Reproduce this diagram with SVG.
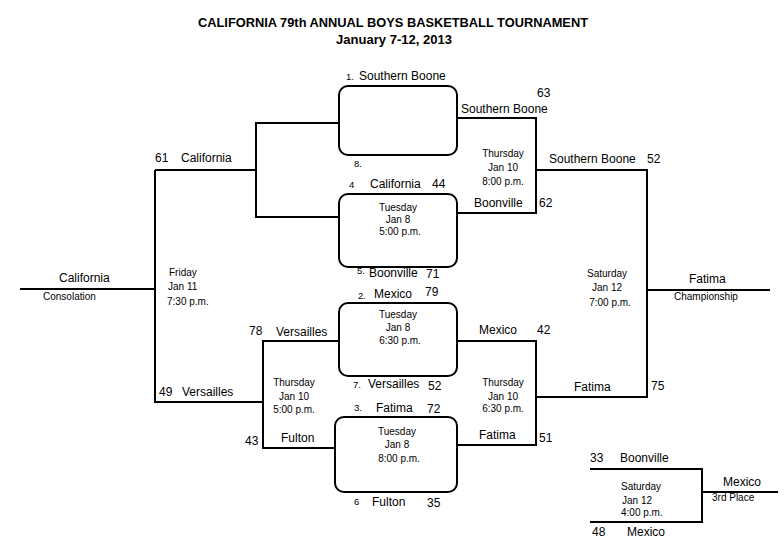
<svg xmlns="http://www.w3.org/2000/svg" width="784" height="538" viewBox="0 0 784 538">
<style>
text{font-family:"Liberation Sans",Arial,sans-serif;fill:#000}
.t{font-size:12px}
.s{font-size:10px}
.n{font-size:9.5px}
.c{font-size:10px}
.h{font-size:12.5px;font-weight:bold}
.ln{fill:none;stroke:#000;stroke-width:2}
.box{fill:#fff;stroke:#000;stroke-width:2}
</style>
<rect width="784" height="538" fill="#fff"/>
<g id="title">
<text class="h" x="393" y="27" text-anchor="middle" textLength="390" lengthAdjust="spacingAndGlyphs">CALIFORNIA 79th ANNUAL BOYS BASKETBALL TOURNAMENT</text>
<text class="h" x="394" y="44" text-anchor="middle" textLength="116" lengthAdjust="spacingAndGlyphs">January 7-12, 2013</text>
</g>
<g id="connectors" class="ln">
<polyline points="339,123 256,123 256,217 339,217"/>
<line x1="155" y1="170" x2="256" y2="170"/>
<polyline points="155,170 155,402 263,402"/>
<line x1="20" y1="289" x2="155" y2="289"/>
<polyline points="339,341 263,341 263,448 335,448"/>
<polyline points="457,118 536,118 536,213 457,213"/>
<polyline points="536,170 647,170 647,397 536,397"/>
<line x1="647" y1="290" x2="770" y2="290"/>
<polyline points="457,341 536,341 536,445 457,445"/>
<polyline points="590,469 702,469 702,522 590,522"/>
<line x1="702" y1="492" x2="778" y2="492"/>
</g>
<g id="game1">
<rect class="box" x="339" y="86" width="118" height="69" rx="9"/>
<text class="n" x="346" y="80">1.</text>
<text class="t" x="359" y="80">Southern Boone</text>
<text class="n" x="354" y="167">8.</text>
</g>
<g id="game2">
<rect class="box" x="339" y="194" width="118" height="73" rx="9"/>
<text class="n" x="349" y="188">4</text>
<text class="t" x="370" y="188">California</text>
<text class="t" x="432" y="188">44</text>
<text class="s" x="398" y="211" text-anchor="middle">Tuesday</text>
<text class="s" x="398" y="223" text-anchor="middle">Jan 8</text>
<text class="s" x="400" y="235" text-anchor="middle">5:00 p.m.</text>
<text class="n" x="357" y="274">5.</text>
<text class="t" x="369" y="277">Boonville</text>
<text class="t" x="426" y="278">71</text>
</g>
<g id="game3">
<rect class="box" x="339" y="303" width="118" height="73" rx="9"/>
<text class="n" x="358" y="299">2.</text>
<text class="t" x="374" y="298">Mexico</text>
<text class="t" x="425" y="296">79</text>
<text class="s" x="398" y="318" text-anchor="middle">Tuesday</text>
<text class="s" x="398" y="331" text-anchor="middle">Jan 8</text>
<text class="s" x="400" y="344" text-anchor="middle">6:30 p.m.</text>
<text class="n" x="353" y="388">7.</text>
<text class="t" x="368" y="388">Versailles</text>
<text class="t" x="428" y="390">52</text>
</g>
<g id="game4">
<rect class="box" x="335" y="417" width="122" height="75" rx="9"/>
<text class="n" x="354" y="411">3.</text>
<text class="t" x="376" y="412">Fatima</text>
<text class="t" x="427" y="413">72</text>
<text class="s" x="397" y="435" text-anchor="middle">Tuesday</text>
<text class="s" x="397" y="448" text-anchor="middle">Jan 8</text>
<text class="s" x="399" y="462" text-anchor="middle">8:00 p.m.</text>
<text class="n" x="354" y="505">6</text>
<text class="t" x="372" y="506">Fulton</text>
<text class="t" x="427" y="507">35</text>
</g>
<g id="semi-top">
<text class="t" x="537" y="97">63</text>
<text class="t" x="461" y="113">Southern Boone</text>
<text class="s" x="503" y="157" text-anchor="middle">Thursday</text>
<text class="s" x="503" y="171" text-anchor="middle">Jan 10</text>
<text class="s" x="503" y="185" text-anchor="middle">8:00 p.m.</text>
<text class="t" x="474" y="207">Boonville</text>
<text class="t" x="539" y="207">62</text>
</g>
<g id="semi-bottom">
<text class="t" x="479" y="334">Mexico</text>
<text class="t" x="537" y="334">42</text>
<text class="s" x="503" y="386" text-anchor="middle">Thursday</text>
<text class="s" x="503" y="400" text-anchor="middle">Jan 10</text>
<text class="s" x="503" y="412" text-anchor="middle">6:30 p.m.</text>
<text class="t" x="479" y="439">Fatima</text>
<text class="t" x="539" y="442">51</text>
</g>
<g id="cons-semi">
<text class="t" x="249" y="335">78</text>
<text class="t" x="276" y="336">Versailles</text>
<text class="s" x="294" y="386" text-anchor="middle">Thursday</text>
<text class="s" x="294" y="400" text-anchor="middle">Jan 10</text>
<text class="s" x="294" y="413" text-anchor="middle">5:00 p.m.</text>
<text class="t" x="245" y="445">43</text>
<text class="t" x="281" y="442">Fulton</text>
</g>
<g id="consolation">
<text class="t" x="155" y="162">61</text>
<text class="t" x="181" y="162">California</text>
<text class="s" x="169" y="276">Friday</text>
<text class="s" x="168" y="290">Jan 11</text>
<text class="s" x="167" y="305">7:30 p.m.</text>
<text class="t" x="159" y="396">49</text>
<text class="t" x="182" y="396">Versailles</text>
<text class="t" x="59" y="282">California</text>
<text class="c" x="43" y="300">Consolation</text>
</g>
<g id="championship">
<text class="t" x="549" y="163">Southern Boone</text>
<text class="t" x="647" y="163">52</text>
<text class="s" x="607" y="277" text-anchor="middle">Saturday</text>
<text class="s" x="607" y="291" text-anchor="middle">Jan 12</text>
<text class="s" x="610" y="306" text-anchor="middle">7:00 p.m.</text>
<text class="t" x="689" y="283">Fatima</text>
<text class="c" x="674" y="300">Championship</text>
<text class="t" x="574" y="391">Fatima</text>
<text class="t" x="651" y="390">75</text>
</g>
<g id="third-place">
<text class="t" x="590" y="462">33</text>
<text class="t" x="620" y="462">Boonville</text>
<text class="s" x="621" y="490">Saturday</text>
<text class="s" x="622" y="504">Jan 12</text>
<text class="s" x="621" y="516">4:00 p.m.</text>
<text class="t" x="723" y="486">Mexico</text>
<text class="c" x="712" y="501">3rd Place</text>
<text class="t" x="592" y="536">48</text>
<text class="t" x="627" y="536">Mexico</text>
</g>
</svg>
